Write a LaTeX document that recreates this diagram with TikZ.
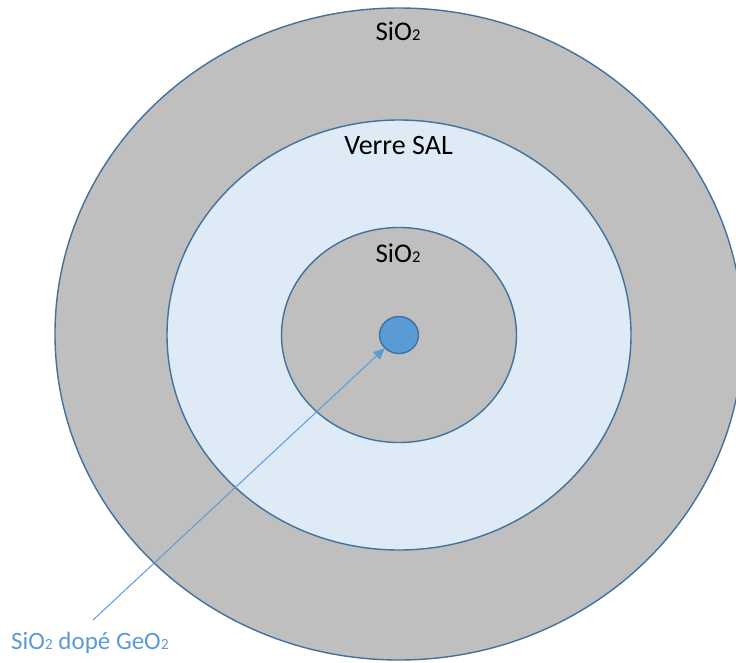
\documentclass[tikz,border=0pt]{standalone}
\usepackage{fontspec}
\setmainfont{Carlito}
\usetikzlibrary{arrows.meta,shapes.geometric}
\definecolor{ringgray}{HTML}{BFBFBF}
\definecolor{edgeblue}{HTML}{41719C}
\definecolor{salblue}{HTML}{DEEBF7}
\definecolor{coreblue}{HTML}{5B9BD5}
\newcommand{\subtwo}[1]{\raisebox{-0.5pt}{\fontsize{#1}{#1}\selectfont 2}}
\tikzset{
  ring/.style={draw=edgeblue, line width=1.4pt},
  lbl/.style={font=\fontsize{27pt}{30pt}\selectfont, text=black, inner sep=0pt, anchor=base},
  pointer/.style={draw=coreblue, line width=1pt, -{Triangle[length=11pt,width=10pt]}}
}
\begin{document}
\begin{tikzpicture}[x=1pt,y=-1pt]
\useasboundingbox (0,0) rectangle (736,662);
\clip (0,0) rectangle (736,662);
\draw[ring, fill=ringgray] (399,334) ellipse [x radius=344, y radius=326];
\draw[ring, fill=salblue] (399,335) ellipse [x radius=232, y radius=215];
\draw[ring, fill=ringgray] (399,335) ellipse [x radius=117.5, y radius=107.5];
\node[ellipse, ring, fill=coreblue, minimum width=39pt, minimum height=37pt, inner sep=0pt] (core) at (399,335) {};
\node[lbl] (toplabel) at (398,40) {SiO\subtwo{16.5pt}};
\node[lbl, font=\fontsize{28pt}{30pt}\selectfont] (sallabel) at (398.5,154) {Verre SAL};
\node[lbl] (innerlabel) at (398,262) {SiO\subtwo{16.5pt}};
\coordinate (start) at (93,620);
\node[lbl, font=\fontsize{25pt}{28pt}\selectfont, text=coreblue, anchor=base west] (corelabel) at (11,649) {SiO\subtwo{15.5pt} dopé GeO\subtwo{15.5pt}};
\draw[pointer] (start) -- (core);
\end{tikzpicture}
\end{document}
